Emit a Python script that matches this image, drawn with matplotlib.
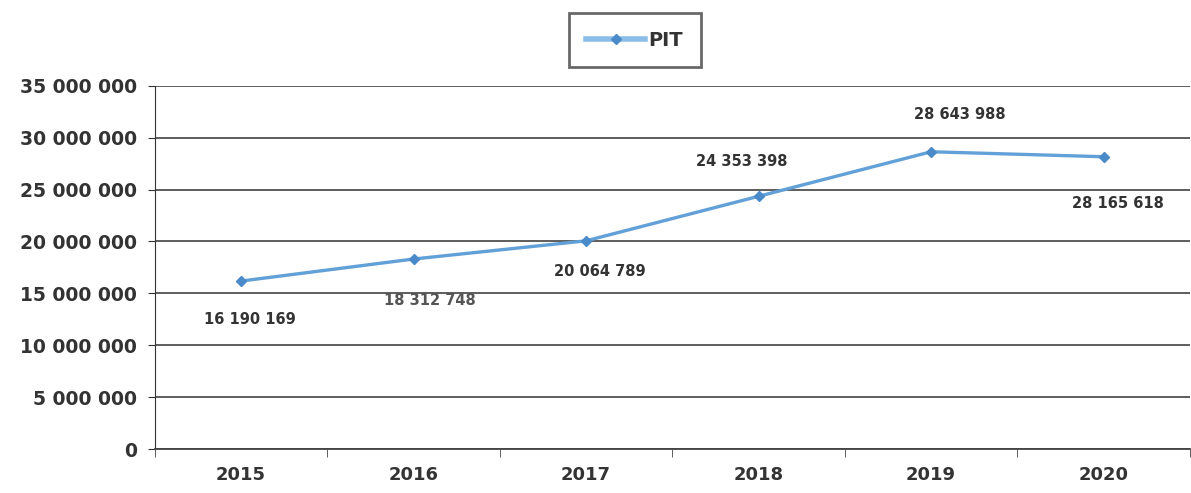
import numpy as np
import matplotlib.pyplot as plt
from matplotlib.ticker import FuncFormatter

plt.rcParams['font.family'] = ['DejaVu Sans']

# data
years = ['2015', '2016', '2017', '2018', '2019', '2020']
pit = [16190169, 18312748, 20064789, 24353398, 28643988, 28165618]
label_text = ['16 190 169', '18 312 748', '20 064 789', '24 353 398', '28 643 988', '28 165 618']

fig = plt.figure(figsize=(11.91, 4.93), dpi=100)
ax = fig.add_axes([0.130, 0.089, 0.869, 0.737])

x = np.arange(len(years))
line_color = '#62a0d8'
ax.plot(x, pit, color=line_color, lw=2.4, marker='D', ms=5,
        markerfacecolor='#4a8ac8', markeredgecolor='#4a8ac8', label='PIT')

# label offsets in points (dx, dy)
offsets = [(6, -28), (12, -30), (10, -22), (-12, 25), (21, 27), (10, -34)]
for i, (v, t) in enumerate(zip(pit, label_text)):
    dx, dy = offsets[i]
    ax.annotate(t, (x[i], v), xytext=(dx, dy), textcoords='offset points',
                ha='center', va='center', fontsize=10.5, fontweight='bold',
                color='#333333' if i != 1 else '#555555')

ax.set_xlim(-0.5, len(years) - 0.5)
ax.set_ylim(0, 35000000)
ax.set_yticks(np.arange(0, 35000001, 5000000))
ax.yaxis.set_major_formatter(FuncFormatter(lambda v, p: f'{int(v):,}'.replace(',', ' ')))
ax.set_xticks(x)
ax.set_xticklabels(years)
ax.set_xticks(np.arange(-0.5, len(years), 1), minor=True)

ax.grid(axis='y', color='#505050', lw=1.3)
ax.set_axisbelow(True)
for s in ['top', 'right']:
    ax.spines[s].set_visible(False)
ax.spines['left'].set_color('#333333')
ax.spines['bottom'].set_color('#444444')
ax.spines['bottom'].set_linewidth(1.3)

ax.tick_params(axis='y', length=5, color='#333333', labelsize=13.5, pad=8)
ax.tick_params(axis='x', which='major', length=0, labelsize=13, pad=12)
ax.tick_params(axis='x', which='minor', length=6, color='#444444')
for lab in ax.get_xticklabels() + ax.get_yticklabels():
    lab.set_fontweight('bold')
    lab.set_color('#333333')

leg = fig.legend(loc='center', bbox_to_anchor=(0.533, 0.918), frameon=True,
                 fancybox=False, edgecolor='#444444', fontsize=14,
                 handlelength=3.0, handletextpad=0.2, borderpad=0.9)
leg.get_frame().set_linewidth(2)
for t in leg.get_texts():
    t.set_fontweight('bold')
    t.set_color('#333333')
for h in leg.legend_handles:
    h.set_color('#8cbde8')
    h.set_linewidth(4)

plt.savefig('out.png', dpi=100)
